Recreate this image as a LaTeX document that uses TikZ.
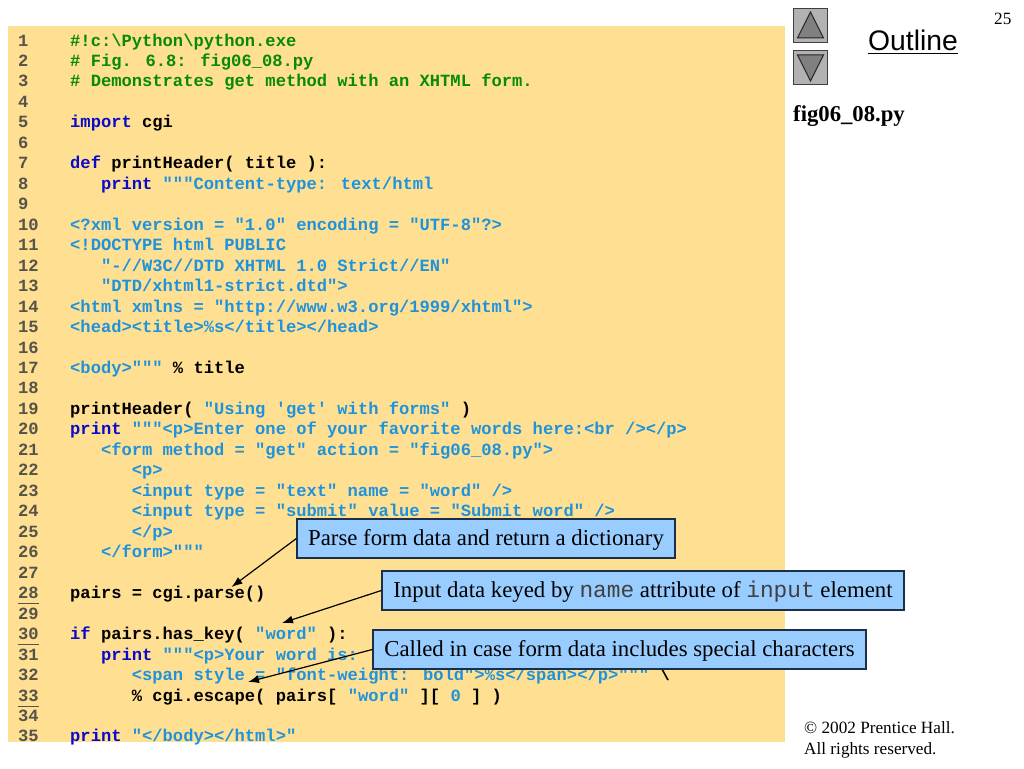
\documentclass[tikz,border=0pt]{standalone}
\usepackage{fontspec}
\usepackage{xcolor}
\usetikzlibrary{positioning}
\usetikzlibrary{arrows.meta}
\setmainfont{Liberation Serif}
\newfontfamily\codefont{Liberation Mono}
\newfontfamily\outlinefont{Liberation Sans}
\definecolor{pagefill}{HTML}{FFE093}
\definecolor{boxfill}{HTML}{99CCFF}
\definecolor{boxline}{HTML}{1C2F48}
\definecolor{cmtcol}{HTML}{078A07}
\definecolor{kwdcol}{HTML}{0A0AC8}
\definecolor{strcol}{HTML}{1E93DC}
\definecolor{numcol}{HTML}{55534A}
\newcommand{\cmt}[1]{\textcolor{cmtcol}{#1}}
\newcommand{\kwd}[1]{\textcolor{kwdcol}{#1}}
\newcommand{\strtxt}[1]{\textcolor{strcol}{#1}}
\newcommand{\attr}[1]{\textcolor{black!75}{\codefont #1}}
\newcommand{\codeln}[3]{\node (code#1) [codetext] at ({70+30.84*#2},{46+20.47*(#1-1)}) {#3};}
\newcommand{\numrule}[1]{\draw[numcol,line width=1pt] ([yshift=-5pt]num#1.base west) -- ([yshift=-5pt]num#1.base east);}
\tikzset{
  codetext/.style={anchor=base west,inner sep=0pt,font=\codefont\fontsize{17.13}{20}\selectfont\bfseries},
  numtext/.style={codetext,text=numcol},
  notebox/.style={draw=boxline,fill=boxfill,line width=1.3pt,inner sep=0pt,minimum height=39pt,text height=19pt,text depth=5pt,font=\fontsize{22.8}{26}\selectfont},
  notearrow/.style={-{Latex[length=11pt,width=8pt]},line width=1.2pt},
  navbox/.style={draw=black!75,fill=black!30,line width=1pt,minimum size=34pt,inner sep=0pt},
  navtri/.style={draw=black!85,fill=black!50,line width=1pt,line join=miter},
  smalltext/.style={anchor=base west,inner sep=0pt,font=\fontsize{17.2}{20}\selectfont},
}
\begin{document}
\begin{tikzpicture}[x=1pt,y=-1pt]
\useasboundingbox (0,0) rectangle (1024,768);
\fill[pagefill] (8,26) rectangle (785,742);

\foreach \n in {1,...,35}
  \node (num\n) [numtext] at (18,{46+20.47*(\n-1)}) {\n};
\numrule{28}
\numrule{30}
\numrule{33}

\codeln{1}{0}{\cmt{\#!c:\textbackslash Python\textbackslash python.exe}}
\codeln{2}{0}{\cmt{\# Fig. 6.8: fig06\_08.py}}
\codeln{3}{0}{\cmt{\# Demonstrates get method with an XHTML form.}}
\codeln{5}{0}{\kwd{import} cgi}
\codeln{7}{0}{\kwd{def} printHeader( title ):}
\codeln{8}{1}{\kwd{print} \strtxt{"""Content-type: text/html}}
\codeln{10}{0}{\strtxt{<?xml version = "1.0" encoding = "UTF-8"?>}}
\codeln{11}{0}{\strtxt{<!DOCTYPE html PUBLIC}}
\codeln{12}{1}{\strtxt{"-//W3C//DTD XHTML 1.0 Strict//EN"}}
\codeln{13}{1}{\strtxt{"DTD/xhtml1-strict.dtd">}}
\codeln{14}{0}{\strtxt{<html xmlns = "http://www.w3.org/1999/xhtml">}}
\codeln{15}{0}{\strtxt{<head><title>\%s</title></head>}}
\codeln{17}{0}{\strtxt{<body>"""} \% title}
\codeln{19}{0}{printHeader( \strtxt{"Using 'get' with forms"} )}
\codeln{20}{0}{\kwd{print} \strtxt{"""<p>Enter one of your favorite words here:<br /></p>}}
\codeln{21}{1}{\strtxt{<form method = "get" action = "fig06\_08.py">}}
\codeln{22}{2}{\strtxt{<p>}}
\codeln{23}{2}{\strtxt{<input type = "text" name = "word" />}}
\codeln{24}{2}{\strtxt{<input type = "submit" value = "Submit word" />}}
\codeln{25}{2}{\strtxt{</p>}}
\codeln{26}{1}{\strtxt{</form>"""}}
\codeln{28}{0}{pairs = cgi.parse()}
\codeln{30}{0}{\kwd{if} pairs.has\_key( \strtxt{"word"} ):}
\codeln{31}{1}{\kwd{print} \strtxt{"""<p>Your word is:}}
\codeln{32}{2}{\strtxt{<span style = "font-weight: bold">\%s</span></p>"""} \textbackslash}
\codeln{33}{2}{\% cgi.escape( pairs[ \strtxt{"word"} ][ \strtxt{0} ] )}
\codeln{35}{0}{\kwd{print} \strtxt{"</body></html>"}}

\node (parsenote) [notebox,minimum width=378pt] at (486,538.5) {Parse form data and return a dictionary};
\node (keynote) [notebox,minimum width=522pt] at (643,590.5) {Input data keyed by \attr{name} attribute of \attr{input} element};
\node (callnote) [notebox,minimum width=493pt] at (619.5,649.5) {Called in case form data includes special characters};

\coordinate (parsetip) at (231.5,587);
\coordinate (wordtip) at (282,623);
\coordinate (escapetip) at (248,682);

\draw[notearrow] (parsenote.west) -- (parsetip);
\draw[notearrow] (keynote.west) -- (wordtip);
\draw[notearrow] (callnote.west) -- (escapetip);

\node (navup) [navbox] at (810.5,25.5) {};
\node (navdown) [navbox] at (810.5,67.5) {};
\draw[navtri] (810.5,12) -- (797.5,38) -- (823.5,38) -- cycle;
\draw[navtri] (810.5,81) -- (797.5,55) -- (823.5,55) -- cycle;

\node (outline) [anchor=base,inner sep=0pt,font=\outlinefont\fontsize{28.3}{32}\selectfont] at (913,50) {Outline};
\draw[line width=1.6pt] ([yshift=-3.5pt]outline.base west) -- ([yshift=-3.5pt]outline.base east);
\node (pageno) [smalltext] at (994,25) {25};
\node (filename) [smalltext,font=\fontsize{22.7}{24}\selectfont\bfseries] at (793,121) {fig06\_08.py};
\node (copyline) [smalltext] at (804,733) {\textcopyright{} 2002 Prentice Hall.};
\node (rights) [smalltext] at (804,754) {All rights reserved.};
\end{tikzpicture}
\end{document}
